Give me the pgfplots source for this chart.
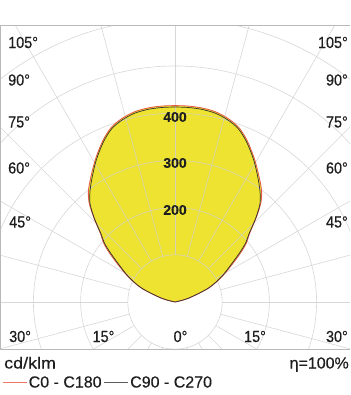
\documentclass[border=0pt]{standalone}
\usepackage{pgfplots}
\usepackage{pgfplotstable}
\usepackage{fontspec}
\setmainfont{Liberation Sans}[FakeBold=0.25]
\newfontfamily\medfont{Liberation Sans}[FakeBold=0.4]
\pgfplotsset{compat=1.18}
\definecolor{lumyellow}{RGB}{238,227,48}
\definecolor{cred}{RGB}{232,86,66}
\definecolor{cblack}{RGB}{50,50,50}
\definecolor{gridc}{RGB}{208,208,208}
\definecolor{framec}{RGB}{185,185,185}
\definecolor{txt}{RGB}{30,30,30}

\pgfplotstableread{
a r
11 0
15.5 29
22.5 76
28.5 112
34 145
37.5 174
40 196
42.5 212
46 246
49 274
52 293
56 315
61 344
66 372
70 391
74 402
78 409
82 412
86 413
90 413
94 413
98 412
102 409
106 402
110 391
114 372
119 344
124 315
128 293
131 274
134 246
137.5 212
140 196
142.5 174
146 145
151.5 112
157.5 76
164.5 29
169 0
}\blackdata

\pgfplotstableread{
a r
11 0
15.5 29
22.5 77
28.5 114
34 150
37.5 180
40 199
42.5 214
46 247
49 277
52 298
56 319
61 347
66 375
70 394
74 405
78 412
82 415
86 416
90 416
94 416
98 415
102 412
106 405
110 394
114 375
119 347
124 319
128 298
131 277
134 247
137.5 214
140 199
142.5 180
146 150
151.5 114
157.5 77
164.5 29
169 0
}\reddata

\begin{document}
\begin{tikzpicture}[x=1pt,y=1pt]
\path[use as bounding box] (0,0) rectangle (350,-395);
\begin{axis}[
  at={(0pt,-26pt)}, anchor=north west,
  scale only axis, width=350pt, height=323pt,
  xmin=-370.8, xmax=370.8, ymin=-99.6, ymax=584.7,
  axis line style={draw=none}, ticks=none,
  clip=true,
]
\addplot[fill=lumyellow, draw=none, smooth, tension=0.5, data cs=polar] table[x=a,y=r] {\reddata};
\addplot[fill=lumyellow, draw=none, smooth, tension=0.5, data cs=polar] table[x=a,y=r] {\blackdata};
\foreach \rr in {100,200,...,700}{
  \edef\tmp{\noexpand\draw[gridc, line width=0.6pt, opacity=0.85] (axis cs:0,0) circle[radius=\rr];}
  \tmp
}
\pgfplotsinvokeforeach{0,15,...,345}{
  \draw[gridc, line width=0.6pt, opacity=0.85] (axis cs:{100*cos(#1)},{100*sin(#1)}) -- (axis cs:{900*cos(#1)},{900*sin(#1)});
}
\addplot[cred, line width=0.8pt, smooth, tension=0.5, data cs=polar] table[x=a,y=r] {\reddata};
\addplot[cblack, line width=0.7pt, smooth, tension=0.5, data cs=polar] table[x=a,y=r] {\blackdata};
\end{axis}
% frame
\draw[framec, line width=1pt] (0.5,-26) -- (0.5,-349) -- (350,-349);
\draw[framec, line width=1pt] (0,-26) -- (350,-26);
% radial value labels
\begin{scope}[every node/.style={inner sep=0pt, text=txt, font=\fontsize{14}{16}\selectfont\bfseries}]
\node at (175,-117) {400};
\node at (175,-163) {300};
\node at (175,-210) {200};
\end{scope}
% angle labels
\newcommand\al[1]{\scalebox{0.9}[1]{#1}}
\begin{scope}[every node/.style={inner sep=0pt, text=txt, font=\medfont\fontsize{16}{18}\selectfont}]
\node[anchor=west] at (8,-42.5) {\al{105°}};
\node[anchor=west] at (8,-80) {\al{90°}};
\node[anchor=west] at (8,-122) {\al{75°}};
\node[anchor=west] at (8,-168) {\al{60°}};
\node[anchor=west] at (9,-222) {\al{45°}};
\node[anchor=west] at (9,-336.5) {\al{30°}};
\node[anchor=east] at (348,-42.5) {\al{105°}};
\node[anchor=east] at (348,-80) {\al{90°}};
\node[anchor=east] at (348,-122) {\al{75°}};
\node[anchor=east] at (348,-168) {\al{60°}};
\node[anchor=east] at (348,-222) {\al{45°}};
\node[anchor=east] at (348,-336.5) {\al{30°}};
\node at (103.5,-336.5) {\al{15°}};
\node at (180.5,-336.5) {\al{0°}};
\node at (255,-336.5) {\al{15°}};
\end{scope}
% bottom texts
\begin{scope}[every node/.style={inner sep=0pt, text=txt, font=\medfont\fontsize{16}{18}\selectfont}]
\node[anchor=base west] at (4,-368.5) {\scalebox{1.12}[1]{cd/klm}};
\node[anchor=base east] at (349,-368.5) {η=100\%};
\draw[cred!80, line width=0.7pt] (3,-382) -- (27,-382);
\node[anchor=base west] at (28.5,-387.5) {C0 - C180};
\draw[cblack!80, line width=0.6pt] (104,-382) -- (128,-382);
\node[anchor=base west] at (130,-387.5) {C90 - C270};
\end{scope}
\end{tikzpicture}
\end{document}
